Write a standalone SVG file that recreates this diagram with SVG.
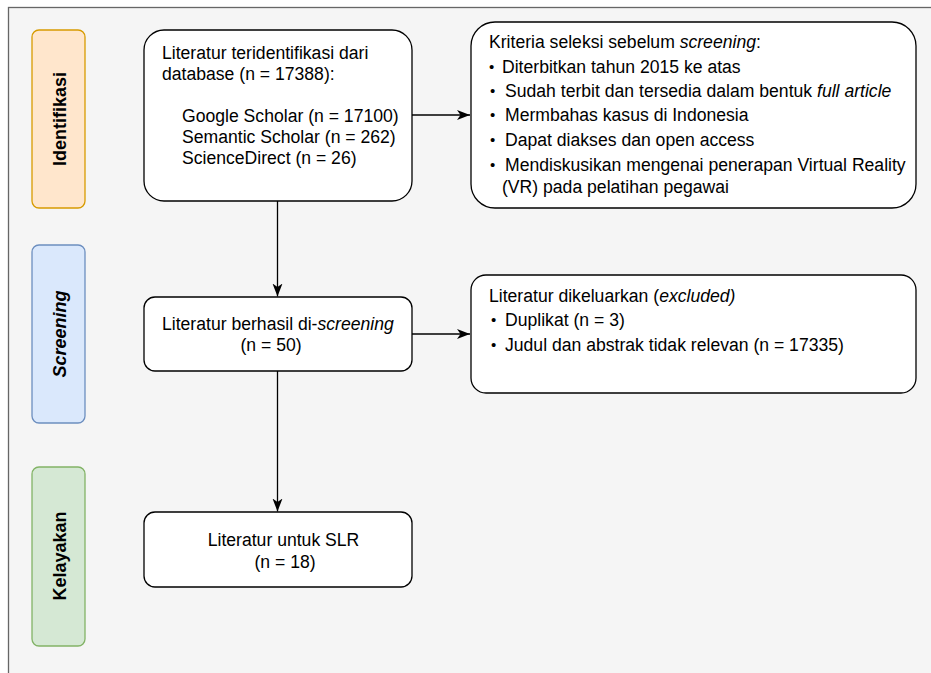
<svg xmlns="http://www.w3.org/2000/svg" width="931" height="673" viewBox="0 0 931 673">
  <style>
    .t { font-family: "Liberation Sans", Arial, Helvetica, sans-serif; font-size: 17.6px; fill: #000000; }
    .ph { font-family: "Liberation Sans", Arial, Helvetica, sans-serif; font-size: 18px; font-weight: bold; fill: #000000; text-anchor: middle; }
    .node { fill: #ffffff; stroke: #000000; stroke-width: 1.3; }
    .edge { fill: none; stroke: #000000; stroke-width: 1.3; }
    .b { font-size: 15px; }
  </style>
  <defs>
    <marker id="arr" markerUnits="userSpaceOnUse" markerWidth="14" markerHeight="11" refX="13" refY="5" orient="auto">
      <path d="M0,0 L13,5 L0,10 L3.5,5 Z" fill="#000000"/>
    </marker>
  </defs>

  <rect id="frame" x="8.5" y="7.5" width="940" height="690" fill="#f5f5f5" stroke="#666666" stroke-width="1.3"/>

  <g id="phase-identifikasi">
    <rect x="32" y="30" width="53" height="178" rx="7" fill="#ffe6cc" stroke="#d79b00" stroke-width="1.3"/>
    <text class="ph" transform="translate(66,119) rotate(-90)">Identifikasi</text>
  </g>
  <g id="phase-screening">
    <rect x="32" y="245" width="53" height="178" rx="7" fill="#dae8fc" stroke="#6c8ebf" stroke-width="1.3"/>
    <text class="ph" transform="translate(66,334) rotate(-90)" font-style="italic">Screening</text>
  </g>
  <g id="phase-kelayakan">
    <rect x="32" y="467" width="53" height="179" rx="7" fill="#d5e8d4" stroke="#82b366" stroke-width="1.3"/>
    <text class="ph" transform="translate(66,556) rotate(-90)">Kelayakan</text>
  </g>

  <g id="connectors">
    <line class="edge" x1="412" y1="115" x2="470" y2="115" marker-end="url(#arr)"/>
    <line class="edge" x1="277.5" y1="201" x2="277.5" y2="296.5" marker-end="url(#arr)"/>
    <line class="edge" x1="412" y1="334" x2="470" y2="334" marker-end="url(#arr)"/>
    <line class="edge" x1="277.5" y1="371" x2="277.5" y2="511.5" marker-end="url(#arr)"/>
  </g>

  <g id="node-identified">
    <rect class="node" x="144" y="30" width="268" height="171" rx="20"/>
    <text class="t" x="162" y="59">Literatur teridentifikasi dari</text>
    <text class="t" x="162" y="80">database (n = 17388):</text>
    <text class="t" x="182" y="122">Google Scholar (n = 17100)</text>
    <text class="t" x="182" y="143">Semantic Scholar (n = 262)</text>
    <text class="t" x="182" y="164">ScienceDirect (n = 26)</text>
  </g>

  <g id="node-criteria">
    <rect class="node" x="471" y="22" width="445" height="186" rx="24"/>
    <text class="t" x="489" y="48">Kriteria seleksi sebelum <tspan font-style="italic">screening</tspan>:</text>
    <text class="t b" x="489" y="72">•</text>
    <text class="t" x="502" y="73">Diterbitkan tahun 2015 ke atas</text>
    <text class="t b" x="490" y="96">•</text>
    <text class="t" x="505" y="97">Sudah terbit dan tersedia dalam bentuk <tspan font-style="italic">full article</tspan></text>
    <text class="t b" x="490" y="120">•</text>
    <text class="t" x="505" y="121">Mermbahas kasus di Indonesia</text>
    <text class="t b" x="490" y="145">•</text>
    <text class="t" x="505" y="146">Dapat diakses dan open access</text>
    <text class="t b" x="490" y="170">•</text>
    <text class="t" x="505" y="171">Mendiskusikan mengenai penerapan Virtual Reality</text>
    <text class="t" x="502" y="193">(VR) pada pelatihan pegawai</text>
  </g>

  <g id="node-screened">
    <rect class="node" x="144" y="297" width="268" height="74" rx="11"/>
    <text class="t" x="162" y="330">Literatur berhasil di-<tspan font-style="italic">screening</tspan></text>
    <text class="t" x="271" y="351" text-anchor="middle">(n = 50)</text>
  </g>

  <g id="node-excluded">
    <rect class="node" x="471" y="275" width="445" height="118" rx="15"/>
    <text class="t" x="489" y="302">Literatur dikeluarkan (<tspan font-style="italic">excluded)</tspan></text>
    <text class="t b" x="491" y="325">•</text>
    <text class="t" x="505" y="326">Duplikat (n = 3)</text>
    <text class="t b" x="491" y="350">•</text>
    <text class="t" x="505" y="351">Judul dan abstrak tidak relevan (n = 17335)</text>
  </g>

  <g id="node-slr">
    <rect class="node" x="144" y="512" width="268" height="75" rx="11"/>
    <text class="t" x="283.5" y="546" text-anchor="middle">Literatur untuk SLR</text>
    <text class="t" x="285" y="568" text-anchor="middle">(n = 18)</text>
  </g>
</svg>
